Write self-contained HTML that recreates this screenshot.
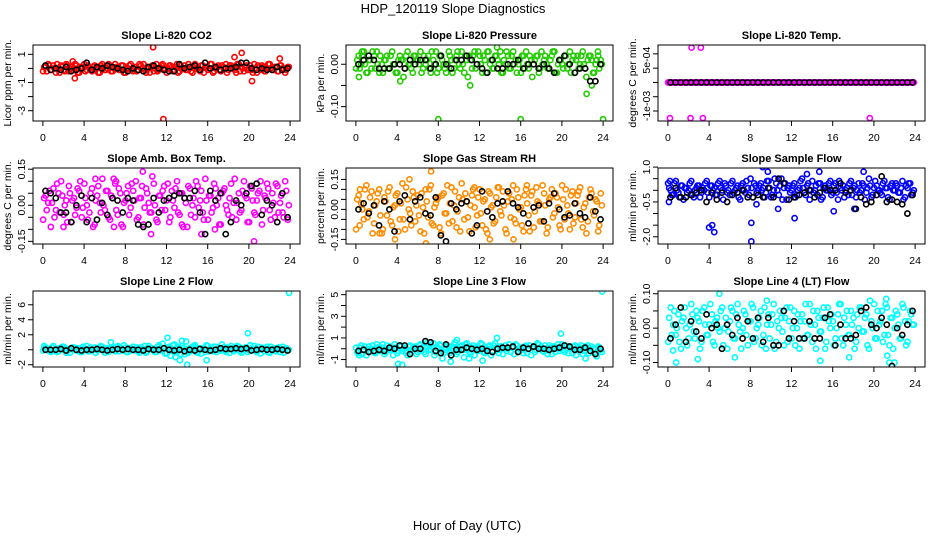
<!DOCTYPE html>
<html><head><meta charset="utf-8">
<style>
html,body{margin:0;padding:0;background:#fff;}
svg{display:block;font-family:"Liberation Sans",Arial,sans-serif;}
</style></head>
<body>
<svg id="chart" width="936" height="540" viewBox="0 0 936 540" xmlns="http://www.w3.org/2000/svg">
<rect x="0" y="0" width="936" height="540" fill="#fff"/>
<text x="453" y="13" font-size="13" text-anchor="middle">HDP_120119  Slope Diagnostics</text>
<text x="467" y="530" font-size="13" text-anchor="middle">Hour of Day (UTC)</text>
</svg>
<script>
const xTicks=[0,4,8,12,16,20,24];
const titles=["Slope Li-820 CO2","Slope Li-820 Pressure","Slope Li-820 Temp.","Slope Amb. Box Temp.","Slope Gas Stream RH","Slope Sample Flow","Slope Line 2 Flow","Slope Line 3 Flow","Slope Line 4 (LT) Flow"];
const yTitles=["Licor ppm per min.","kPa per min.","degrees C per min.","degrees C per min.","percent per min.","ml/min per min.","ml/min per min.","ml/min per min.","ml/min per min."];

const co2Col=[0.1,-0.2,0.2,-0.1,0.0,0.3,-0.3,0.1,-0.2,0.2,0.0,-0.1,0.3,-0.3,0.1,0.0,-0.2,0.2,-0.1,0.1,0.0,-0.3,0.2,0.1,-0.1,0.3,-0.2,0.0,0.1,-0.1,0.2,-0.3,0.0,0.2,-0.1,0.1,-0.2,0.3,0.0,-0.1,0.1,-0.3,0.2,0.0,-0.2,0.1,0.3,-0.1,0.0,0.2,-0.2,0.1,-0.3,0.2,0.0,-0.1,0.3,-0.2,0.1,0.0,-0.1,0.2,-0.3,0.1,0.0,0.3,-0.2,0.1,-0.1,0.2,0.0,-0.3,0.2,0.1,-0.1,0.3,-0.2,0.0,0.1,-0.1,0.2,-0.3,0.0,0.2,-0.1,0.1,-0.2,0.3,0.0,-0.1,0.1,-0.2,0.2,0.0,-0.1,0.1];
const co2Col2=[-0.2,0.1,0.3,-0.1,0.2,-0.3,0.0,0.2,-0.1,0.3,-0.2,0.1,0.0,0.2,-0.3,0.1,0.3,-0.1,0.0,-0.2,0.2,0.1,-0.3,0.3,-0.1,0.0,0.2,-0.2,0.3,0.1,-0.1,0.2,-0.3,0.0,0.3,-0.2,0.1,-0.1,0.2,0.3,-0.3,0.0,0.1,-0.2,0.3,-0.1,0.2,0.0,-0.3,0.2,0.1,-0.1,0.3,-0.2,0.0,0.2,-0.1,0.1,-0.3,0.3,0.0,-0.2,0.2,0.1,-0.1,0.3,-0.3,0.0,0.2,-0.2,0.1,0.3,-0.1,0.2,0.0,-0.3,0.3,0.1,-0.2,0.2,0.0,-0.1,0.3,-0.3,0.1,0.2,-0.2,0.0,0.3,-0.1,0.1,-0.2,0.2,0.0,-0.3,0.1];
const co2Blk=[0.2,-0.1,0.0,-0.1,0.1,-0.2,-0.1,0.0,0.4,-0.1,0.1,0.0,0.2,0.1,0.0,-0.1,-0.2,0.0,-0.1,-0.2,0.1,0.2,0.0,-0.1,-0.2,-0.2,0.3,0.0,0.1,0.2,-0.1,0.4,0.0,0.1,-0.1,0.0,0.0,0.1,0.4,0.4,0.0,-0.1,0.0,-0.1,-0.1,0.1,-0.1,0.0];
const co2OutX=[10.7,11.7,19.3,18.6,20.3,3.1,23.0,2.9];
const co2OutY=[1.5,-3.6,1.1,0.8,-0.9,-0.7,0.7,0.5];

const presCol=[0.01,-0.01,0.02,0.00,-0.02,0.01,0.03,-0.01,0.00,0.02,-0.02,0.01,-0.01,0.02,0.00,-0.02,0.01,0.01,-0.03,0.02,0.00,-0.01,0.02,0.01,0.00,-0.02,0.02,0.01,-0.01,0.03,0.00,-0.02,0.02,0.01,-0.01,0.00,0.02,-0.02,0.01,0.03,-0.01,0.00,0.02,-0.03,0.01,0.02,-0.01,0.03,0.00,0.02,-0.02,0.03,0.01,-0.01,0.02,0.00,-0.02,0.01,0.03,-0.01,0.02,0.00,-0.02,0.01,0.02,-0.01,0.00,0.02,-0.03,0.01,0.02,-0.01,0.00,0.02,-0.01,0.01,0.03,-0.02,0.00,0.01,-0.01,0.02,0.00,-0.02,0.02,0.01,-0.01,0.02,0.00,-0.03,0.02,0.01,-0.02,0.01,-0.01,0.00];
const presCol2=[-0.01,0.02,0.00,0.03,-0.02,0.01,-0.01,0.02,0.03,-0.02,0.00,0.01,0.02,-0.01,0.03,0.00,-0.02,0.02,0.01,-0.01,0.03,0.00,-0.02,0.02,0.01,0.03,-0.01,0.00,0.02,-0.02,0.01,0.03,-0.01,0.02,0.00,-0.02,0.03,0.01,-0.01,0.02,0.00,0.03,-0.02,0.01,0.02,-0.01,0.03,0.00,0.02,-0.02,0.01,0.03,0.00,-0.01,0.02,0.01,0.03,-0.02,0.00,0.02,-0.01,0.03,0.01,0.00,-0.02,0.02,0.03,-0.01,0.01,0.00,0.02,-0.02,0.03,0.01,0.00,-0.01,0.02,0.03,-0.02,0.01,0.00,0.02,-0.01,0.03,0.01,-0.02,0.02,0.00,0.03,-0.01,0.01,0.02,-0.02,0.00,0.02,0.01];
const presBlk=[0.00,0.01,0.02,0.01,-0.01,-0.01,-0.01,0.00,0.00,-0.01,0.01,0.00,0.01,0.01,-0.01,0.00,0.02,0.00,-0.01,0.01,0.01,0.02,0.01,0.00,-0.01,-0.02,0.01,-0.01,-0.01,0.00,0.00,0.01,-0.01,0.00,0.00,-0.01,0.00,-0.01,-0.02,0.01,0.02,0.00,-0.02,-0.01,-0.01,-0.04,-0.04,0.00];
const presOutX=[0.6,8.0,16.0,24.0,11.1,22.4,23.5,13.7,22.9,0.3,4.3];
const presOutY=[0.03,-0.13,-0.13,-0.13,-0.05,-0.07,0.03,0.04,-0.05,-0.03,-0.04];

const tempCol=[0,0,0,0,0,0,0,0,0,0,0,0,0,0,0,0,0,0,0,0,0,0,0,0,0,0,0,0,0,0,0,0,0,0,0,0,0,0,0,0,0,0,0,0,0,0,0,0,0,0,0,0,0,0,0,0,0,0,0,0,0,0,0,0,0,0,0,0,0,0,0,0,0,0,0,0,0,0,0,0,0,0,0,0,0,0,0,0,0,0,0,0,0,0,0,0];
const tempCol2=[0,0,0,0,0,0,0,0,0,0,0,0,0,0,0,0,0,0,0,0,0,0,0,0,0,0,0,0,0,0,0,0,0,0,0,0,0,0,0,0,0,0,0,0,0,0,0,0,0,0,0,0,0,0,0,0,0,0,0,0,0,0,0,0,0,0,0,0,0,0,0,0,0,0,0,0,0,0,0,0,0,0,0,0,0,0,0,0,0,0,0,0,0,0,0,0];
const tempBlk=[0,0,0,0,0,0,0,0,0,0,0,0,0,0,0,0,0,0,0,0,0,0,0,0,0,0,0,0,0,0,0,0,0,0,0,0,0,0,0,0,0,0,0,0,0,0,0,0];
const tempOutX=[2.3,3.2,0.2,2.2,3.4,19.6];
const tempOutY=[0.00122,0.00122,-0.00125,-0.00125,-0.00125,-0.00125];

const ambCol=[0.03,-0.02,0.06,0.01,-0.05,0.09,-0.03,0.04,0.00,-0.07,0.05,0.02,-0.04,0.07,0.10,-0.01,0.03,-0.06,0.05,-0.09,0.02,0.08,-0.03,0.00,0.06,-0.05,0.04,0.11,-0.02,0.07,-0.08,0.01,0.05,-0.04,0.09,0.02,-0.06,0.03,0.08,-0.01,0.05,-0.03,0.12,0.00,-0.07,0.04,0.06,-0.02,0.09,-0.05,0.02,0.07,-0.03,0.05,-0.09,0.01,0.08,-0.04,0.03,0.10,-0.01,0.06,-0.06,0.02,0.04,-0.03,0.09,0.00,-0.08,0.05,0.07,-0.02,0.03,-0.05,0.11,0.01,-0.03,0.06,0.04,-0.07,0.08,0.02,-0.04,0.05,0.10,-0.02,0.03,0.07,-0.06,0.01,0.09,-0.03,0.04,-0.05,0.06,0.00];
const ambCol2=[-0.06,0.04,0.01,-0.09,0.07,-0.02,0.05,0.10,-0.04,0.02,0.08,-0.07,0.03,-0.01,0.06,-0.05,0.09,0.00,-0.03,0.07,-0.08,0.04,0.01,0.11,-0.02,0.06,-0.06,0.03,0.09,-0.04,0.05,-0.09,0.02,0.08,-0.01,0.06,0.10,-0.05,0.03,-0.08,0.07,0.01,-0.03,0.09,-0.06,0.04,-0.02,0.08,0.02,-0.07,0.06,-0.01,0.10,-0.04,0.05,0.03,-0.09,0.07,0.00,-0.05,0.08,0.02,-0.03,0.11,-0.06,0.04,-0.01,0.07,0.03,-0.08,0.06,0.00,-0.04,0.09,0.01,-0.06,0.05,-0.02,0.10,0.03,-0.07,0.07,-0.03,0.02,0.06,-0.08,0.04,0.09,-0.02,0.05,-0.05,0.08,0.01,-0.03,0.10,-0.06];
const ambBlk=[0.06,0.05,0.03,-0.03,-0.03,-0.07,0.00,0.04,-0.07,0.03,-0.06,0.01,-0.04,0.03,0.02,-0.03,0.03,0.02,-0.08,-0.09,-0.08,0.03,-0.03,0.02,0.03,0.04,0.05,0.03,0.03,0.06,-0.03,-0.12,0.06,0.02,0.05,-0.12,-0.07,0.02,0.00,0.05,0.08,0.09,-0.04,0.02,0.00,-0.07,0.05,-0.05];
const ambOutX=[9.7,10.5,15.4,20.5,2.0,7.1,5.1,16.7,6.9,13.5];
const ambOutY=[0.14,-0.12,-0.12,-0.15,-0.09,0.10,0.11,-0.10,-0.09,-0.08];

const rhCol=[0.05,-0.08,0.00,0.10,-0.04,0.06,-0.12,0.02,0.08,-0.03,-0.10,0.04,0.09,-0.06,0.01,0.07,-0.11,0.03,-0.05,0.11,0.00,-0.08,0.06,0.02,-0.03,0.08,-0.12,0.04,0.10,-0.07,0.01,0.05,-0.09,0.07,-0.02,0.12,0.03,-0.06,0.09,-0.01,-0.11,0.05,0.08,-0.04,0.02,0.10,-0.09,0.06,-0.02,0.04,-0.10,0.09,0.01,-0.07,0.06,0.11,-0.03,0.02,-0.12,0.08,0.05,-0.05,0.10,0.00,-0.08,0.07,0.03,-0.11,0.09,-0.01,0.04,-0.06,0.12,0.02,-0.09,0.06,-0.04,0.08,0.01,-0.10,0.05,0.10,-0.02,0.07,-0.07,0.03,0.09,-0.05,0.01,-0.12,0.06,0.08,-0.03,0.04,-0.08,0.02];
const rhCol2=[-0.10,0.07,0.03,-0.05,0.12,-0.01,0.09,-0.07,0.04,0.10,-0.12,0.06,-0.03,0.11,-0.08,0.02,0.08,-0.05,0.13,-0.10,0.05,-0.02,0.09,-0.06,0.07,-0.11,0.01,0.10,-0.04,0.12,-0.08,0.03,0.06,-0.12,0.08,-0.02,-0.07,0.11,0.02,-0.09,0.06,0.13,-0.05,0.04,-0.11,0.07,0.01,-0.03,0.10,-0.08,0.05,-0.12,0.08,0.02,-0.06,0.11,-0.01,0.09,-0.10,0.04,-0.04,0.12,-0.07,0.06,0.01,-0.11,0.10,-0.03,0.07,-0.09,0.11,0.03,-0.06,0.08,-0.12,0.05,0.10,-0.02,0.06,-0.08,0.12,-0.05,0.02,-0.10,0.09,-0.04,0.07,0.11,-0.09,0.03,-0.06,0.10,-0.01,0.05,-0.11,0.08];
const rhBlk=[0.00,0.03,-0.02,0.02,-0.08,0.04,0.00,-0.11,0.04,0.07,-0.05,0.04,0.06,-0.02,-0.03,0.06,-0.13,-0.16,0.03,0.00,0.03,0.04,-0.12,-0.08,0.09,-0.01,-0.04,0.03,0.04,0.09,0.03,0.01,-0.02,-0.07,0.01,0.02,-0.06,0.03,0.08,0.00,-0.04,-0.03,0.03,-0.02,-0.04,0.06,-0.01,-0.05];
const rhOutX=[7.3,6.8,3.8,15.3,13.0,5.2,16.6,0.4,11.5,2.3];
const rhOutY=[0.19,-0.17,-0.15,-0.15,-0.15,0.15,0.12,0.10,0.11,-0.12];

const flowCol=[0.1,-0.2,0.3,0.0,-0.3,0.2,0.1,-0.1,0.3,-0.2,0.0,0.2,-0.3,0.1,0.3,-0.1,0.2,0.0,-0.2,0.3,0.1,-0.4,0.2,0.0,0.3,-0.1,0.1,-0.3,0.2,0.0,0.4,-0.2,0.1,0.3,-0.1,0.2,0.0,-0.3,0.4,0.1,-0.2,0.5,0.0,0.2,-0.4,0.3,0.1,-0.1,0.2,-0.3,0.0,0.4,0.1,-0.2,0.3,0.0,-0.1,0.2,0.3,-0.4,0.1,0.0,0.3,-0.2,0.2,-0.1,0.4,0.0,-0.3,0.1,0.3,-0.2,0.2,0.0,-0.1,0.3,-0.4,0.1,0.2,-0.2,0.4,0.0,-0.1,0.3,0.1,-0.3,0.2,0.0,0.3,-0.1,0.1,-0.4,0.2,0.3,-0.2,0.0];
const flowCol2=[0.3,0.0,-0.2,0.4,-0.1,0.2,-0.4,0.1,0.0,0.4,-0.3,0.1,0.2,-0.1,0.0,0.4,-0.3,0.2,0.1,-0.2,0.4,0.0,0.3,-0.1,-0.2,0.4,0.0,0.2,-0.4,0.3,-0.1,0.1,0.5,-0.3,0.2,0.0,0.3,0.1,-0.1,0.4,-0.3,0.0,0.3,-0.2,0.5,0.1,-0.4,0.2,0.0,0.3,-0.2,0.1,0.5,-0.1,0.2,-0.4,0.4,0.0,-0.2,0.3,-0.3,0.2,0.0,0.4,-0.1,0.3,-0.4,0.1,0.2,0.0,-0.2,0.4,0.1,-0.3,0.3,0.0,0.2,-0.1,0.5,-0.3,0.1,0.2,0.0,-0.2,0.4,0.1,-0.4,0.3,0.0,0.2,-0.1,0.4,-0.3,0.1,0.3,-0.1];
const flowBlk=[-0.3,0.1,-0.3,-0.3,-0.2,-0.1,0.0,-0.5,-0.1,-0.4,-0.1,-0.5,-0.2,-0.1,0.0,-0.3,-0.3,-0.2,-0.3,0.1,-0.3,0.5,0.3,-0.4,-0.3,-0.2,-0.1,0.0,-0.3,-0.1,0.1,0.0,0.0,0.3,-0.1,0.0,-0.8,-0.3,-0.6,-0.5,-0.2,0.6,-0.5,-0.4,-0.5,-0.6,-1.0,-0.2];
const flowOutX=[0.2,0.1,4.0,4.3,4.5,8.1,8.1,9.2,9.7,14.7,12.3,16.1,10.7,19.0,13.5,18.1,8.6];
const flowOutY=[0.4,-0.5,-1.6,-1.5,-1.8,-1.4,-2.2,1.0,0.8,0.8,-1.2,-0.9,-0.8,0.8,0.7,-0.8,-0.6];

const l2Col=[0.5,0.1,-0.2,0.3,0.0,-0.3,0.2,0.4,-0.1,0.1,-0.4,0.3,0.0,0.2,-0.3,0.4,0.1,-0.2,0.3,0.0,-0.4,0.2,0.5,-0.1,0.1,-0.3,0.3,0.0,0.4,-0.2,0.1,0.6,-0.3,0.2,0.0,-0.1,0.3,-0.4,0.1,0.5,-0.2,0.2,0.0,-0.3,0.4,0.1,0.8,-0.5,0.3,-0.8,0.6,-0.2,0.4,-0.6,0.2,0.0,-0.4,0.3,0.5,-0.3,0.1,-0.5,0.2,0.6,-0.2,0.0,0.4,-0.3,0.1,0.7,-0.1,0.3,-0.4,0.2,0.0,0.5,-0.2,0.1,0.3,-0.3,0.6,0.0,-0.1,0.4,-0.5,0.2,0.1,-0.3,0.4,0.0,-0.2,0.3,0.1,-0.4,0.2,0.0];
const l2Col2=[-0.1,0.3,0.0,-0.3,0.5,0.1,-0.2,0.2,0.4,-0.4,0.0,0.2,0.3,-0.1,0.1,-0.3,0.2,0.5,-0.2,0.0,0.3,-0.1,0.1,0.4,-0.4,0.2,0.0,0.3,-0.2,0.5,0.1,-0.1,0.3,-0.3,0.2,0.4,0.0,-0.2,0.3,0.1,-0.4,0.5,0.2,0.0,-0.3,0.6,-0.1,0.2,-0.5,0.4,0.0,0.7,-0.3,0.2,0.5,-0.6,0.1,-0.2,0.3,0.6,-0.4,0.2,0.0,-0.3,0.5,0.1,-0.2,0.4,0.0,-0.1,0.3,-0.3,0.2,0.5,-0.2,0.0,0.4,-0.4,0.1,0.3,-0.1,0.2,0.5,-0.3,0.0,0.3,-0.2,0.4,-0.4,0.1,0.2,0.0,-0.3,0.4,0.1,-0.1];
const l2Blk=[0.0,0.0,0.0,0.1,-0.1,0.2,0.0,-0.1,0.0,0.0,0.1,0.0,-0.1,0.0,0.1,0.0,0.1,0.0,0.0,-0.1,0.1,0.0,0.0,0.2,0.0,-0.1,0.0,-0.2,0.0,-0.1,0.1,0.0,-0.1,0.0,0.2,0.1,0.1,0.2,0.1,0.2,-0.1,0.0,0.1,0.0,0.0,0.1,0.0,-0.1];
const l2OutX=[23.9,19.9,12.1,14.0,15.9,13.3,13.5,12.9,6.6,13.9];
const l2OutY=[7.6,2.2,1.6,-2.0,-1.4,-1.4,1.2,-1.0,1.0,1.1];

const l3Col=[-0.3,0.1,-0.5,0.2,0.0,-0.2,0.3,-0.4,0.1,-0.1,0.4,-0.3,0.0,0.2,-0.6,0.1,-0.2,0.3,0.0,-0.4,0.2,-0.1,0.1,-0.5,0.3,0.0,-0.3,0.5,-0.1,0.2,-0.6,0.1,0.4,-0.2,0.0,0.3,-0.4,0.1,0.6,-0.3,0.2,-0.1,0.4,0.0,-0.5,0.3,0.1,-0.2,0.5,-0.3,0.0,0.2,-0.6,0.3,0.1,-0.4,0.2,0.0,-0.2,0.4,0.1,-0.5,0.3,0.0,-0.1,0.2,-0.4,0.3,0.1,-0.3,0.5,0.0,-0.2,0.3,-0.5,0.1,0.2,-0.3,0.4,0.0,-0.1,0.3,-0.4,0.1,0.2,-0.6,0.0,0.3,-0.2,0.1,-0.4,0.2,0.0,-0.7,0.1,-0.3];
const l3Col2=[0.1,-0.4,0.3,-0.1,-0.6,0.2,0.0,-0.3,0.4,-0.2,0.1,-0.5,0.3,-0.1,0.0,0.4,-0.4,0.2,-0.2,0.1,-0.6,0.3,0.0,0.2,-0.3,0.4,0.1,-0.5,0.2,-0.1,0.5,-0.3,0.0,0.3,-0.4,0.1,0.2,-0.2,0.4,-0.5,0.0,0.3,-0.1,0.5,-0.3,0.1,-0.6,0.2,-0.1,0.4,-0.4,0.0,0.3,-0.2,0.5,-0.1,0.2,-0.5,0.3,0.0,-0.3,0.2,0.4,-0.2,0.1,-0.4,0.3,0.0,-0.6,0.2,-0.1,0.4,0.1,-0.3,0.0,0.3,-0.5,0.2,0.1,-0.2,0.4,-0.3,0.0,0.2,-0.4,0.3,-0.1,0.1,-0.5,0.2,0.3,-0.2,0.0,-0.4,0.2,-0.1];
const l3Blk=[-0.2,-0.1,-0.3,-0.2,-0.1,-0.2,0.1,0.0,0.3,0.3,-0.5,0.0,0.0,0.7,0.6,-0.2,-0.4,0.4,-0.6,-0.1,-0.1,0.1,0.0,-0.1,0.0,-0.2,-0.3,0.0,0.1,0.1,0.2,-0.3,0.1,0.0,0.2,0.0,0.0,-0.1,0.0,0.1,0.3,0.2,-0.1,-0.1,0.1,-0.2,-0.5,0.0];
const l3OutX=[23.9,19.9,13.7,4.1,4.5,9.2,8.4,12.3,11.0,10.5,0.3,22.3,9.8];
const l3OutY=[5.3,1.4,1.0,-1.4,-1.5,-1.2,-0.9,-1.1,-0.9,-0.8,-0.6,-0.9,0.8];

const l4Col=[0.03,-0.02,0.05,0.00,-0.04,0.02,0.06,-0.05,0.01,0.04,-0.03,0.03,-0.06,0.05,0.01,-0.02,0.07,-0.04,0.02,0.00,0.05,-0.05,0.03,-0.01,0.06,-0.03,0.04,0.01,-0.06,0.05,-0.02,0.02,0.07,-0.04,0.00,0.03,-0.05,0.06,0.01,-0.03,0.04,-0.06,0.02,0.05,-0.01,0.03,-0.04,0.06,0.00,-0.05,0.04,0.02,-0.03,0.07,-0.02,0.01,0.05,-0.06,0.03,-0.01,0.06,-0.04,0.02,0.04,-0.05,0.00,0.07,-0.03,0.03,0.05,-0.02,0.01,-0.06,0.04,0.06,-0.01,0.03,-0.05,0.08,0.00,-0.03,0.05,0.02,-0.04,0.07,-0.02,0.03,-0.06,0.05,0.01,-0.03,0.06,-0.05,0.02,0.04,0.01];
const l4Col2=[-0.04,0.06,0.01,-0.02,0.04,-0.06,0.03,0.00,-0.03,0.07,-0.01,0.05,0.02,-0.04,0.06,-0.02,0.01,0.04,-0.05,0.03,-0.01,0.06,0.00,-0.06,0.02,0.05,-0.03,0.07,-0.01,0.00,0.04,-0.05,0.02,0.06,-0.03,0.01,0.05,-0.02,-0.06,0.04,0.01,0.07,-0.04,0.00,0.03,-0.05,0.06,0.02,-0.03,0.05,0.00,-0.06,0.04,0.02,-0.02,0.07,-0.04,0.01,0.05,-0.01,0.03,-0.06,0.06,0.00,0.02,-0.03,0.04,0.07,-0.05,0.01,-0.02,0.05,0.03,-0.04,0.00,0.06,-0.01,0.04,-0.06,0.02,0.07,-0.03,0.01,0.05,-0.02,0.06,-0.05,0.03,0.00,0.04,-0.03,0.07,0.02,-0.04,0.05,0.01];
const l4Blk=[-0.03,0.01,0.06,-0.04,0.02,-0.01,-0.03,0.04,0.00,0.01,-0.06,0.01,-0.02,0.03,-0.03,0.02,-0.03,0.03,-0.04,0.03,-0.05,-0.05,0.05,-0.03,0.02,-0.03,-0.03,0.02,-0.03,-0.03,0.03,0.04,-0.05,0.01,-0.03,-0.03,-0.02,0.05,0.06,0.01,0.00,0.03,0.01,-0.11,0.00,-0.02,0.01,0.05];
const l4OutX=[5.0,0.8,2.9,6.5,14.8,17.6,21.5,22.0,21.3,9.6,21.2,0.5];
const l4OutY=[0.10,-0.10,-0.09,-0.085,-0.095,-0.085,-0.10,-0.10,-0.08,0.08,0.085,-0.065];

const yTickVals=[[-3,-2,-1,0,1],[-0.1,-0.05,0],[-0.001,-0.0005,0,0.0005,0.001],[-0.15,-0.1,-0.05,0,0.05,0.1,0.15],[-0.15,-0.1,-0.05,0,0.05,0.1,0.15],[-2,-1.5,-1,-0.5,0,0.5,1],[-2,0,2,4,6],[-1,0,1,2,3,4,5],[-0.1,-0.05,0,0.05,0.1]];
const yLabVals=[[-3,-1,1],[-0.1,0],[-0.001,0.0005],[-0.15,0,0.15],[-0.15,0,0.15],[-2,-0.5,1],[-2,2,4,6],[-1,1,3,5],[-0.1,0,0.1]];
const yLabTexts=[["-3","-1","1"],["-0.10","0.00"],["-1e-03","5e-04"],["-0.15","0.00","0.15"],["-0.15","0.00","0.15"],["-2.0","-0.5","1.0"],["-2","2","4","6"],["-1","1","3","5"],["-0.10","0.00","0.10"]];
const yDomains=[[-3.73,1.66],[-0.134,0.0455],[-0.00135,0.00131],[-0.161,0.155],[-0.173,0.207],[-2.31,0.96],[-2.3,7.84],[-1.69,5.34],[-0.113,0.108]];

const colored=[co2Col,presCol,tempCol,ambCol,rhCol,flowCol,l2Col,l3Col,l4Col];
const colored2=[co2Col2,presCol2,tempCol2,ambCol2,rhCol2,flowCol2,l2Col2,l3Col2,l4Col2];
const blacks=[co2Blk,presBlk,tempBlk,ambBlk,rhBlk,flowBlk,l2Blk,l3Blk,l4Blk];
const outX=[co2OutX,presOutX,tempOutX,ambOutX,rhOutX,flowOutX,l2OutX,l3OutX,l4OutX];
const outY=[co2OutY,presOutY,tempOutY,ambOutY,rhOutY,flowOutY,l2OutY,l3OutY,l4OutY];

// styling (not data)
const colors=["#ff0000","#22cc00","#ff00ff","#ff00ff","#ff8c00","#0000ff","#00ffff","#00ffff","#00ffff"];
const panelKeys=["co2","pressure","temp","amb-box-temp","gas-rh","sample-flow","line2-flow","line3-flow","line4-flow"];
const colX=[33,346,658], rowY=[45,168,291], PW=267, PH=76;
const labelShift=[[0,0,0],[0,0],[-5,-8],[0,0,0],[0,0,0],[0,0,0],[0,0,0,0],[0,0,0,0],[0,0,0]];

const NS="http://www.w3.org/2000/svg";
const svg=document.getElementById('chart');
function mk(tag,attrs,parent){const e=document.createElementNS(NS,tag);for(const k in attrs)e.setAttribute(k,attrs[k]);(parent||svg).appendChild(e);return e;}

for(let p=0;p<9;p++){
  const x0=colX[p%3], y0=rowY[Math.floor(p/3)];
  const g=mk('g',{});
  
  
  const xs=h=>x0+PW*(h+0.96)/25.92;
  const [ymin,ymax]=yDomains[p];
  const ys=v=>y0+PH*(ymax-v)/(ymax-ymin);
  const cid='clip'+p;
  const cp=mk('clipPath',{id:cid},g);
  mk('rect',{x:x0,y:y0,width:PW,height:PH},cp);
  const t=mk('text',{x:x0+PW/2,y:y0-6,'font-size':11,'font-weight':'bold','text-anchor':'middle'},g);
  t.textContent=titles[p];
  
  
  const yt=mk('text',{transform:`translate(${x0-22},${y0+PH/2}) rotate(-90)`,'font-size':10.5,'text-anchor':'middle'},g);
  yt.textContent=yTitles[p];
  
  
  const pg=mk('g',{'clip-path':`url(#${cid})`,fill:'none'},g);
  
  
  colored[p].forEach((v,i)=>{
    const c=mk('circle',{cx:xs(0.125+i*0.25),cy:ys(v),r:2.6,stroke:colors[p],'stroke-width':1.6},pg);
    
    
  });
  colored2[p].forEach((v,i)=>{
    const c=mk('circle',{cx:xs(i*0.25+0.02),cy:ys(v),r:2.6,stroke:colors[p],'stroke-width':1.6},pg);
    
    
  });
  outX[p].forEach((h,i)=>{
    const c=mk('circle',{cx:xs(h),cy:ys(outY[p][i]),r:2.6,stroke:colors[p],'stroke-width':1.6},pg);
    
    
  });
  blacks[p].forEach((v,i)=>{
    const c=mk('circle',{cx:xs(0.25+i*0.5),cy:ys(v),r:2.6,stroke:'#000','stroke-width':1.6},pg);
    
    
  });
  const b=mk('rect',{x:x0,y:y0,width:PW,height:PH,fill:'none',stroke:'#000','stroke-width':1},g);
  
  
  xTicks.forEach(h=>{
    mk('line',{x1:xs(h),x2:xs(h),y1:y0+PH,y2:y0+PH+5,stroke:'#000'},g);
    const l=mk('text',{x:xs(h),y:y0+PH+20,'font-size':10.5,'text-anchor':'middle'},g);
    l.textContent=String(h);
    
    
  });
  yTickVals[p].forEach(v=>{
    mk('line',{x1:x0-5,x2:x0,y1:ys(v),y2:ys(v),stroke:'#000'},g);
  });
  yLabVals[p].forEach((v,i)=>{
    const l=mk('text',{transform:`translate(${x0-8},${ys(v)+labelShift[p][i]}) rotate(-90)`,'font-size':10.5,'text-anchor':'middle'},g);
    l.textContent=yLabTexts[p][i];
    
    
  });
}
</script>
</body></html>
